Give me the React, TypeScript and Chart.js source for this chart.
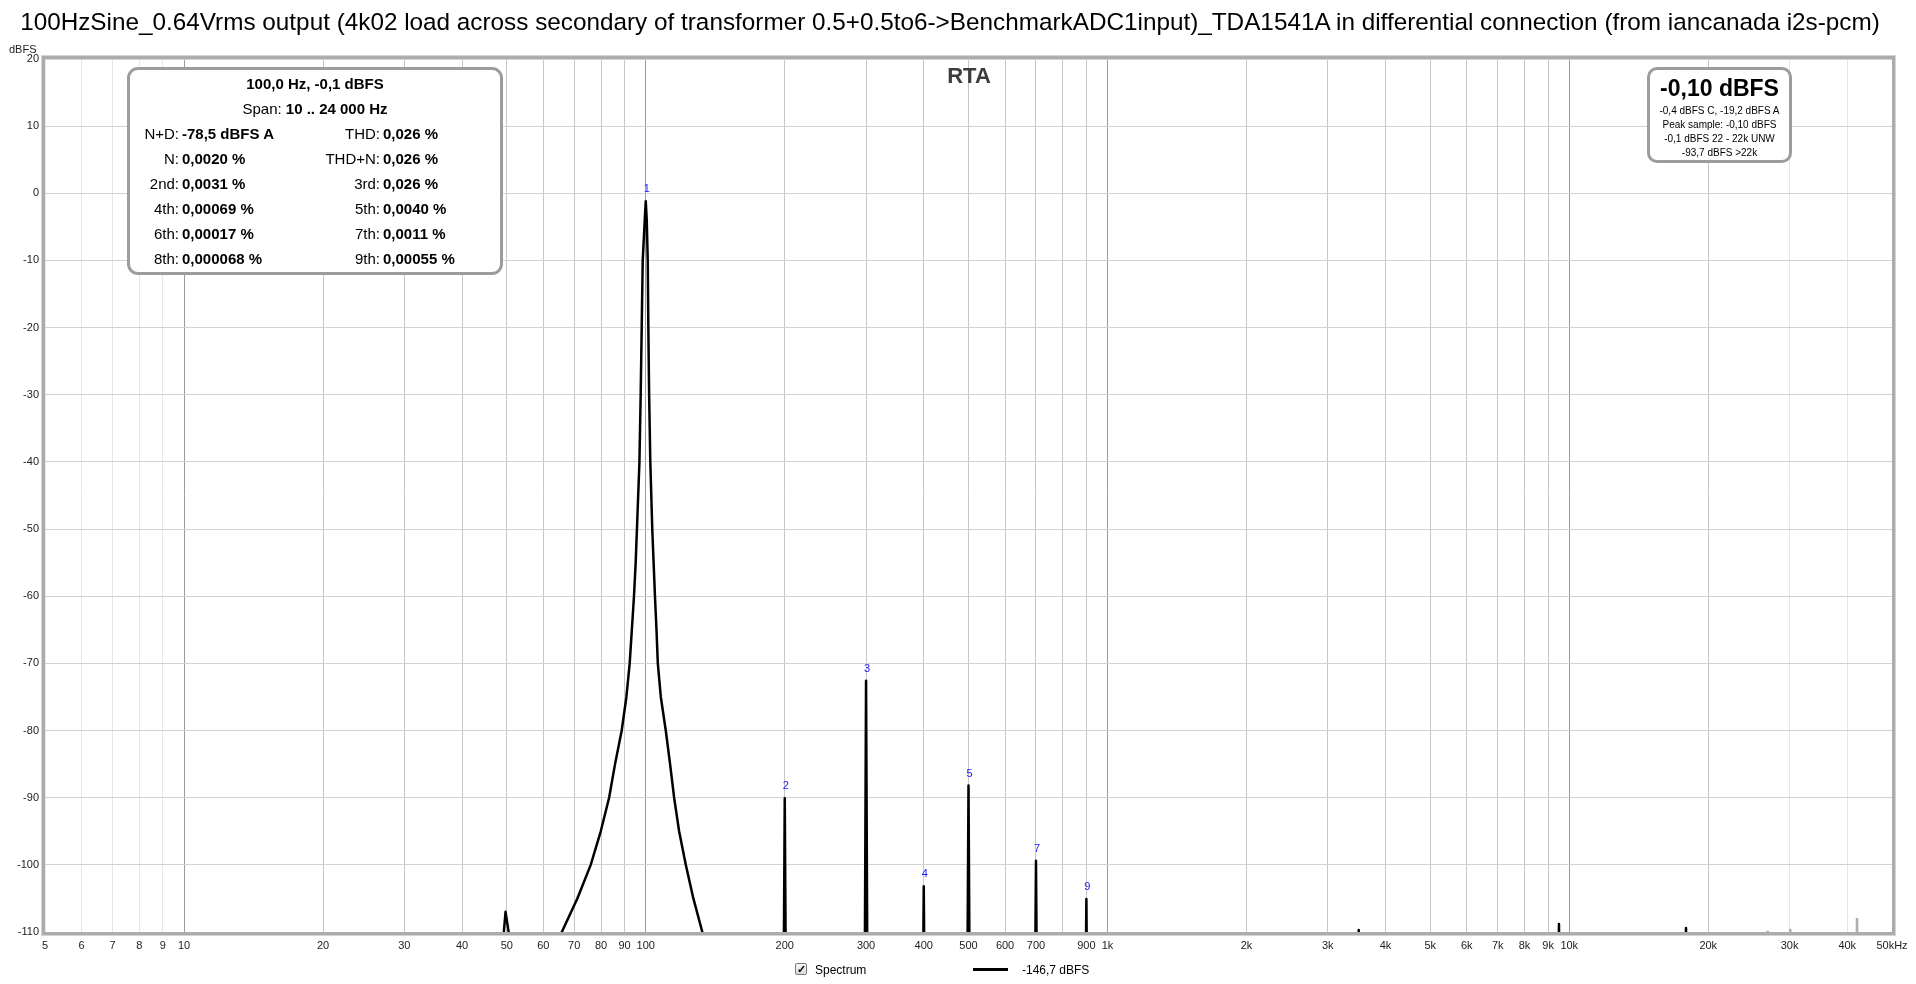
import React, { useEffect, useRef } from "react";
import { Chart, registerables } from "chart.js";

Chart.register(...registerables);

const TITLE =
  "100HzSine_0.64Vrms output (4k02 load across secondary of transformer 0.5+0.5to6->BenchmarkADC1input)_TDA1541A in differential connection (from iancanada i2s-pcm)";

// Spectrum inside the 10 .. 24 000 Hz span (Hz, dBFS)
const spectrumFreqs = [
  5, 47, 49.0, 49.7, 51.0, 53,
  58, 65.8, 71.1, 76.0, 79.9, 83.3, 85.8, 88.7, 90.8, 92.3, 93.3, 94.3, 95.1, 95.7, 96.9, 97.5, 98.0, 98.5, 99.5,
  100,
  100.5, 101.0, 101.3, 101.7, 102.3, 103.3, 104.0, 104.7, 105.5, 106.2, 107.8, 110.5, 112.9, 115.2, 118.1, 122.1, 126.8, 132.6, 145,
  198, 200, 202, 297, 300, 303, 396, 400, 404, 495, 500, 505, 693, 700, 707, 891, 900, 909,
  3460, 3500, 3540, 9400, 9500, 9600, 17700, 17900, 18100, 24000,
];
const spectrumLevels = [
  -140, -140, -112, -107.0, -112, -140,
  -120, -110, -105, -100, -95, -90, -85, -80, -75, -70, -65, -60, -55, -50, -40, -30, -20, -10, -4,
  -1.2,
  -4, -10, -20, -30, -40, -50, -55, -60, -65, -70, -75, -80, -85, -90, -95, -100, -105, -110, -125,
  -140, -90.1, -140, -140, -72.6, -140, -140, -103.2, -140, -140, -88.2, -140, -140, -99.4, -140, -140, -105.1, -140,
  -140, -109.7, -140, -140, -108.8, -140, -140, -109.4, -140, -140,
];

// Spectrum beyond the span (drawn grey)
const outOfSpanFreqs = [24000, 26500, 26900, 27300, 29700, 30100, 30500, 41400, 42000, 42600, 50000];
const outOfSpanLevels = [-140, -140, -109.8, -140, -140, -109.5, -140, -140, -107.9, -140, -140];

// Harmonic markers
const harmonicFreqs = [100, 200, 300, 400, 500, 700, 900];
const harmonicLevels = [-1.2, -90.1, -72.6, -103.2, -88.2, -99.4, -105.1];
const harmonicLabels = ["1", "2", "3", "4", "5", "7", "9"];

// Axis ticks
const xTickValues = [
  5, 6, 7, 8, 9, 10, 20, 30, 40, 50, 60, 70, 80, 90, 100, 200, 300, 400, 500, 600, 700, 800, 900,
  1000, 2000, 3000, 4000, 5000, 6000, 7000, 8000, 9000, 10000, 20000, 30000, 40000, 50000,
];
const xTickLabels = [
  "5", "6", "7", "8", "9", "10", "20", "30", "40", "50", "60", "70", "80", "90", "100", "200", "300", "400", "500", "600", "700", "", "900",
  "1k", "2k", "3k", "4k", "5k", "6k", "7k", "8k", "9k", "10k", "20k", "30k", "40k", "50kHz",
];
const yMin = -110;
const yMax = 20;
const yStep = 10;

// Info box
const infoHeader = "100,0 Hz, -0,1 dBFS";
const infoSpanLabel = "Span:";
const infoSpanValue = "10 .. 24 000 Hz";
const infoLeftLabels = ["N+D:", "N:", "2nd:", "4th:", "6th:", "8th:"];
const infoLeftValues = ["-78,5 dBFS A", "0,0020 %", "0,0031 %", "0,00069 %", "0,00017 %", "0,000068 %"];
const infoRightLabels = ["THD:", "THD+N:", "3rd:", "5th:", "7th:", "9th:"];
const infoRightValues = ["0,026 %", "0,026 %", "0,026 %", "0,0040 %", "0,0011 %", "0,00055 %"];

// Level box
const levelMain = "-0,10 dBFS";
const levelLines = ["-0,4 dBFS C, -19,2 dBFS A", "Peak sample: -0,10 dBFS", "-0,1 dBFS 22 - 22k UNW", "-93,7 dBFS >22k"];

const legendName = "Spectrum";
const legendValue = "-146,7 dBFS";

const FONT = "'Liberation Sans', Arial, Helvetica, sans-serif";

const framePlugin = {
  id: "frame",
  afterDatasetsDraw(chart: any) {
    const { ctx, chartArea } = chart;
    const { left, top, right, bottom } = chartArea;
    ctx.save();
    const xs = chart.scales.x;
    const ys = chart.scales.y;
    ctx.fillStyle = "#1a1aff";
    ctx.font = `11px ${FONT}`;
    ctx.textAlign = "center";
    ctx.textBaseline = "middle";
    harmonicFreqs.forEach((f, i) => {
      const px = xs.getPixelForValue(f);
      const py = ys.getPixelForValue(harmonicLevels[i]);
      ctx.fillText(harmonicLabels[i], px + 1, py - 12);
    });
    ctx.strokeStyle = "#d4d4d4";
    ctx.lineWidth = 1;
    ctx.strokeRect(left - 3.5, top - 3.5, right - left + 7, bottom - top + 7);
    ctx.strokeStyle = "#acacac";
    ctx.lineWidth = 3;
    ctx.strokeRect(left - 1.5, top - 1.5, right - left + 3, bottom - top + 3);
    ctx.restore();
  },
};

function gridColor(v: number): string {
  const lg = Math.log10(v);
  if (Math.abs(lg - Math.round(lg)) < 1e-6) return "#9a9a9a";
  if (v < 10 || v > 24000) return "#e6e6e6";
  return "#c6c6c6";
}

export default function App() {
  const canvasRef = useRef<HTMLCanvasElement>(null);

  useEffect(() => {
    const canvas = canvasRef.current;
    if (!canvas) return;
    const chart = new Chart(canvas, {
      type: "line",
      data: {
        datasets: [
          {
            label: legendName,
            data: spectrumFreqs.map((f, i) => ({ x: f, y: spectrumLevels[i] })),
            borderColor: "#000000",
            borderWidth: 2.5,
            pointRadius: 0,
            tension: 0,
            borderJoinStyle: "round",
          },
          {
            label: "beyond span",
            data: outOfSpanFreqs.map((f, i) => ({ x: f, y: outOfSpanLevels[i] })),
            borderColor: "#b0b0b0",
            borderWidth: 2.5,
            pointRadius: 0,
            tension: 0,
          },
        ],
      },
      options: {
        animation: false,
        responsive: false,
        maintainAspectRatio: false,
        parsing: false as any,
        layout: { padding: { top: 59, right: 24, left: 0, bottom: 0 } },
        plugins: {
          legend: { display: false },
          tooltip: { enabled: false },
          title: { display: false },
        },
        scales: {
          x: {
            type: "logarithmic",
            min: 5,
            max: 50000,
            afterBuildTicks: (s: any) => {
              s.ticks = xTickValues.map((v) => ({ value: v }));
            },
            afterFit: (s: any) => {
              s.height = 52;
              s.paddingLeft = 0;
              s.paddingRight = 0;
            },
            ticks: {
              autoSkip: false,
              maxRotation: 0,
              minRotation: 0,
              padding: 7,
              color: "#222",
              font: { family: FONT, size: 11 },
              callback: (v: any) => {
                const i = xTickValues.indexOf(Number(v));
                return i >= 0 ? xTickLabels[i] : "";
              },
            },
            grid: {
              color: (c: any) => gridColor(c.tick ? c.tick.value : 10),
              drawTicks: false,
              lineWidth: 1,
            },
            border: { display: false },
          },
          y: {
            type: "linear",
            min: yMin,
            max: yMax,
            afterFit: (s: any) => {
              s.width = 45;
            },
            ticks: {
              stepSize: yStep,
              padding: 6,
              color: "#222",
              font: { family: FONT, size: 11 },
            },
            grid: { color: "#d2d2d2", drawTicks: false, lineWidth: 1 },
            border: { display: false },
          },
        },
      },
      plugins: [framePlugin],
    } as any);
    return () => chart.destroy();
  }, []);

  const abs = (l: number, t: number, extra: React.CSSProperties = {}): React.CSSProperties => ({
    position: "absolute",
    left: l,
    top: t,
    whiteSpace: "nowrap",
    ...extra,
  });

  const rowY = [134, 159, 184, 209, 234, 259];

  return (
    <div
      style={{
        position: "fixed",
        left: 0,
        top: 0,
        width: 1916,
        height: 984,
        background: "#fff",
        overflow: "hidden",
        fontFamily: FONT,
        color: "#000",
      }}
    >
      <canvas ref={canvasRef} width={1916} height={984} style={{ position: "absolute", left: 0, top: 0 }} />

      <div style={abs(0, 8, { width: 1900, textAlign: "center", fontSize: 24.3, lineHeight: "28px" })}>{TITLE}</div>
      <div style={abs(9, 42, { fontSize: 11, lineHeight: "14px", color: "#222" })}>dBFS</div>
      <div
        style={abs(869, 63, {
          width: 200,
          textAlign: "center",
          fontSize: 22,
          fontWeight: "bold",
          lineHeight: "26px",
          color: "#3c3c3c",
        })}
      >
        RTA
      </div>

      {/* info box */}
      <div
        style={abs(127, 67, {
          width: 376,
          height: 208,
          boxSizing: "border-box",
          border: "3px solid #9c9c9c",
          borderRadius: 11,
          background: "#fff",
        })}
      />
      <div style={abs(127, 74, { width: 376, textAlign: "center", fontSize: 15, fontWeight: "bold", lineHeight: "20px" })}>
        {infoHeader}
      </div>
      <div style={abs(127, 99, { width: 376, textAlign: "center", fontSize: 15, lineHeight: "20px" })}>
        {infoSpanLabel} <b>{infoSpanValue}</b>
      </div>
      {infoLeftLabels.map((lab, i) => (
        <React.Fragment key={"l" + i}>
          <div style={abs(0, rowY[i] - 10, { width: 179, textAlign: "right", fontSize: 15, lineHeight: "20px" })}>{lab}</div>
          <div style={abs(182, rowY[i] - 10, { fontSize: 15, fontWeight: "bold", lineHeight: "20px" })}>{infoLeftValues[i]}</div>
          <div style={abs(0, rowY[i] - 10, { width: 380, textAlign: "right", fontSize: 15, lineHeight: "20px" })}>
            {infoRightLabels[i]}
          </div>
          <div style={abs(383, rowY[i] - 10, { fontSize: 15, fontWeight: "bold", lineHeight: "20px" })}>{infoRightValues[i]}</div>
        </React.Fragment>
      ))}

      {/* level box */}
      <div
        style={abs(1647, 67, {
          width: 145,
          height: 96,
          boxSizing: "border-box",
          border: "3px solid #9c9c9c",
          borderRadius: 10,
          background: "#fff",
        })}
      />
      <div style={abs(1647, 74, { width: 145, textAlign: "center", fontSize: 23, fontWeight: "bold", lineHeight: "28px" })}>
        {levelMain}
      </div>
      {levelLines.map((t, i) => (
        <div key={"v" + i} style={abs(1647, 104 + i * 14, { width: 145, textAlign: "center", fontSize: 10, lineHeight: "14px" })}>
          {t}
        </div>
      ))}

      {/* legend */}
      <div
        style={abs(795, 963, {
          width: 12,
          height: 12,
          boxSizing: "border-box",
          border: "1px solid #7a7a7a",
          borderRadius: 2,
          background: "linear-gradient(#fafafa, #dcdcdc)",
          fontSize: 11,
          lineHeight: "10px",
          textAlign: "center",
          fontWeight: "bold",
        })}
      >
        ✓
      </div>
      <div style={abs(815, 962, { fontSize: 12, lineHeight: "16px" })}>{legendName}</div>
      <div style={abs(973, 968, { width: 35, height: 3, background: "#000" })} />
      <div style={abs(1022, 962, { fontSize: 12, lineHeight: "16px" })}>{legendValue}</div>
    </div>
  );
}
